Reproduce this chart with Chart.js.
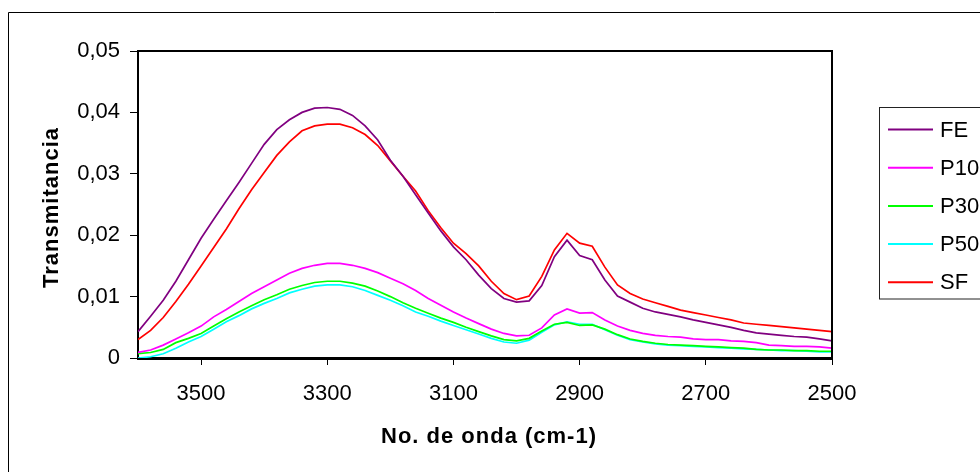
<!DOCTYPE html>
<html>
<head>
<meta charset="utf-8">
<title>Transmitancia</title>
<script src="https://cdn.jsdelivr.net/npm/chart.js@4/dist/chart.umd.min.js"></script>
<style>
  html, body { margin: 0; padding: 0; background: #fff; }
  canvas { display: block; }
</style>
</head>
<body>
<canvas id="c" width="980" height="472"></canvas>
<script>
// Wavenumber (cm-1) of each sample
const wavenumbers = [3600, 3580, 3560, 3540, 3520, 3500, 3480, 3460, 3440, 3420,
  3400, 3380, 3360, 3340, 3320, 3300, 3280, 3260, 3240, 3220,
  3200, 3180, 3160, 3140, 3120, 3100, 3080, 3060, 3040, 3020,
  3000, 2980, 2960, 2940, 2920, 2900, 2880, 2860, 2840, 2820,
  2800, 2780, 2760, 2740, 2720, 2700, 2680, 2660, 2640, 2620,
  2600, 2580, 2560, 2540, 2520, 2500];

const seriesNames = ['FE', 'P10', 'P30', 'P50', 'SF'];

const FE = [0.0043, 0.0068, 0.0094, 0.0125, 0.0160, 0.0195, 0.0226, 0.0256, 0.0286, 0.0317,
  0.0348, 0.0372, 0.0388, 0.0400, 0.0407, 0.0408, 0.0405, 0.0395, 0.0378, 0.0355,
  0.0322, 0.0296, 0.0266, 0.0236, 0.0207, 0.0181, 0.0160, 0.0135, 0.0113, 0.0097,
  0.0091, 0.0093, 0.0118, 0.0165, 0.0192, 0.0167, 0.0160, 0.0127, 0.0101, 0.0091,
  0.0081, 0.0075, 0.0071, 0.0067, 0.0062, 0.0058, 0.0054, 0.0050, 0.0045, 0.0041,
  0.0039, 0.0037, 0.0035, 0.0034, 0.0031, 0.0028];

const P10 = [0.0009, 0.0013, 0.0021, 0.0031, 0.0041, 0.0052, 0.0067, 0.0079, 0.0092, 0.0105,
  0.0116, 0.0127, 0.0138, 0.0146, 0.0151, 0.0154, 0.0154, 0.0151, 0.0146, 0.0139,
  0.0130, 0.0121, 0.0110, 0.0097, 0.0086, 0.0075, 0.0065, 0.0056, 0.0047, 0.0040,
  0.0036, 0.0037, 0.0049, 0.0070, 0.0080, 0.0073, 0.0074, 0.0062, 0.0052, 0.0045,
  0.0040, 0.0037, 0.0035, 0.0034, 0.0031, 0.0030, 0.0030, 0.0028, 0.0027, 0.0025,
  0.0021, 0.0020, 0.0019, 0.0019, 0.0018, 0.0016];

const P30 = [0.0007, 0.0009, 0.0014, 0.0025, 0.0032, 0.0040, 0.0052, 0.0064, 0.0075, 0.0085,
  0.0095, 0.0103, 0.0112, 0.0118, 0.0123, 0.0125, 0.0125, 0.0122, 0.0117, 0.0109,
  0.0100, 0.0090, 0.0081, 0.0073, 0.0065, 0.0058, 0.0050, 0.0043, 0.0036, 0.0030,
  0.0028, 0.0032, 0.0044, 0.0055, 0.0058, 0.0053, 0.0054, 0.0047, 0.0038, 0.0031,
  0.0027, 0.0024, 0.0022, 0.0021, 0.0020, 0.0019, 0.0018, 0.0017, 0.0016, 0.0014,
  0.0013, 0.0013, 0.0012, 0.0012, 0.0011, 0.0011];

const P50 = [0.0000, 0.0002, 0.0007, 0.0016, 0.0026, 0.0035, 0.0047, 0.0059, 0.0069, 0.0080,
  0.0089, 0.0097, 0.0106, 0.0112, 0.0117, 0.0119, 0.0119, 0.0116, 0.0110, 0.0102,
  0.0094, 0.0085, 0.0075, 0.0068, 0.0060, 0.0053, 0.0046, 0.0039, 0.0032, 0.0026,
  0.0024, 0.0029, 0.0042, 0.0054, 0.0059, 0.0055, 0.0055, 0.0046, 0.0037, 0.0030,
  0.0026, 0.0023, 0.0021, 0.0020, 0.0019, 0.0018, 0.0017, 0.0016, 0.0015, 0.0014,
  0.0013, 0.0012, 0.0012, 0.0011, 0.0010, 0.0010];

const SF = [0.0030, 0.0045, 0.0066, 0.0092, 0.0120, 0.0150, 0.0180, 0.0210, 0.0243, 0.0274,
  0.0302, 0.0330, 0.0352, 0.0370, 0.0378, 0.0381, 0.0381, 0.0375, 0.0364, 0.0346,
  0.0321, 0.0296, 0.0272, 0.0240, 0.0212, 0.0187, 0.0170, 0.0150, 0.0125, 0.0105,
  0.0095, 0.0101, 0.0133, 0.0176, 0.0203, 0.0187, 0.0182, 0.0148, 0.0119, 0.0105,
  0.0096, 0.0090, 0.0084, 0.0078, 0.0074, 0.0070, 0.0066, 0.0062, 0.0057, 0.0055,
  0.0053, 0.0051, 0.0049, 0.0047, 0.0045, 0.0043];

const xTickValues = [3500, 3300, 3100, 2900, 2700, 2500];
const yTickValues = [0, 0.01, 0.02, 0.03, 0.04, 0.05];

const seriesColors = ['#800080', '#FF00FF', '#00FF00', '#00FFFF', '#FF0000'];
const seriesValues = [FE, P10, P30, P50, SF];

const FONT = '"Liberation Sans", Arial, sans-serif';

const datasets = seriesNames.map((name, k) => ({
  label: name,
  data: wavenumbers.map((w, i) => ({ x: w, y: seriesValues[k][i] })),
  borderColor: seriesColors[k],
  backgroundColor: seriesColors[k],
  borderWidth: 1.7,
  pointRadius: 0,
  tension: 0,
  fill: false
}));

// Frame, plot border, axis titles and the boxed legend
const decorations = {
  id: 'decorations',
  afterDraw(chart) {
    const ctx = chart.ctx;
    const a = chart.chartArea;
    ctx.save();

    // outer frame (top and left edges)
    ctx.strokeStyle = '#000';
    ctx.lineWidth = 1;
    ctx.beginPath();
    ctx.moveTo(8.5, 472);
    ctx.lineTo(8.5, 12.5);
    ctx.lineTo(980, 12.5);
    ctx.stroke();

    // plot area border: top and right
    ctx.lineWidth = 2;
    ctx.beginPath();
    ctx.moveTo(a.left, a.top);
    ctx.lineTo(a.right, a.top);
    ctx.lineTo(a.right, a.bottom);
    ctx.stroke();

    // axis titles
    ctx.fillStyle = '#000';
    ctx.font = 'bold 22px ' + FONT;
    if ('letterSpacing' in ctx) ctx.letterSpacing = '1px';
    ctx.textAlign = 'center';
    ctx.textBaseline = 'alphabetic';
    ctx.fillText('No. de onda (cm-1)', (a.left + a.right) / 2 + 4, 443);

    ctx.save();
    ctx.translate(57.5, (a.top + a.bottom) / 2 + 3);
    ctx.rotate(-Math.PI / 2);
    ctx.fillText('Transmitancia', 0, 0);
    ctx.restore();
    if ('letterSpacing' in ctx) ctx.letterSpacing = '0px';

    // legend
    const boxLeft = 879.5, boxTop = 107.5;
    ctx.lineWidth = 1;
    ctx.strokeStyle = '#222';
    ctx.strokeRect(boxLeft, boxTop, 200, 191.5);
    ctx.font = '22px ' + FONT;
    ctx.textAlign = 'left';
    ctx.textBaseline = 'middle';
    chart.data.datasets.forEach((ds, i) => {
      const y = 129.5 + i * 38.2;
      ctx.strokeStyle = ds.borderColor;
      ctx.lineWidth = 2;
      ctx.beginPath();
      ctx.moveTo(888, y);
      ctx.lineTo(933, y);
      ctx.stroke();
      ctx.fillStyle = '#000';
      ctx.fillText(ds.label, 940, y + 1);
    });

    ctx.restore();
  }
};

new Chart(document.getElementById('c'), {
  type: 'line',
  data: { datasets },
  options: {
    responsive: false,
    animation: false,
    events: [],
    layout: { padding: { top: 51, right: 148, left: 0, bottom: 0 } },
    plugins: {
      legend: { display: false },
      tooltip: { enabled: false },
      title: { display: false }
    },
    scales: {
      x: {
        type: 'linear',
        reverse: true,
        min: 2500,
        max: 3600,
        afterBuildTicks: s => { s.ticks = xTickValues.map(v => ({ value: v })); },
        afterFit: s => { s.height = 114; },
        ticks: {
          color: '#000',
          font: { family: FONT, size: 22 },
          padding: 16,
          maxRotation: 0,
          autoSkip: false,
          callback: v => String(v)
        },
        grid: {
          display: true,
          drawOnChartArea: false,
          drawTicks: true,
          tickLength: 7,
          color: '#000',
          lineWidth: 1
        },
        border: { display: true, color: '#000', width: 3 }
      },
      y: {
        min: 0,
        max: 0.05,
        afterBuildTicks: s => { s.ticks = yTickValues.map(v => ({ value: v })); },
        afterFit: s => { s.width = 138; },
        ticks: {
          color: '#000',
          font: { family: FONT, size: 22 },
          padding: 10,
          callback: v => v === 0 ? '0' : v.toFixed(2).replace('.', ',')
        },
        grid: {
          display: true,
          drawOnChartArea: false,
          drawTicks: true,
          tickLength: 8,
          color: '#000',
          lineWidth: 1
        },
        border: { display: true, color: '#000', width: 2 }
      }
    }
  },
  plugins: [decorations]
});
</script>
</body>
</html>
